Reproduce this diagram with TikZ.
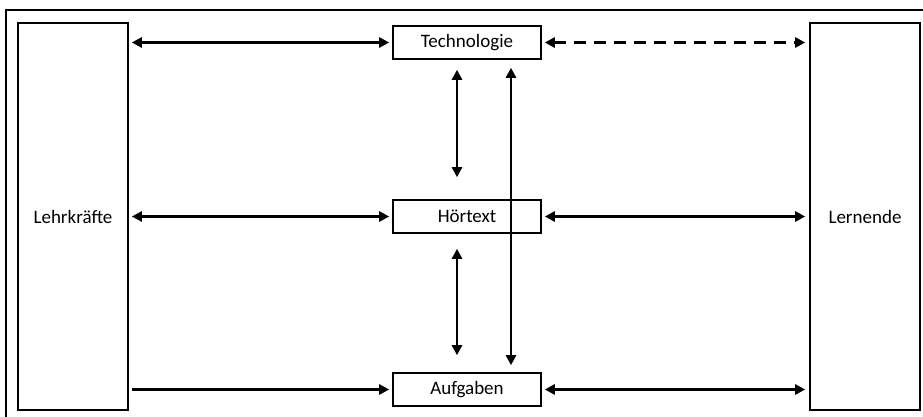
\documentclass[tikz,border=0pt]{standalone}
\usepackage{fontspec}
\setmainfont{Carlito}
\usetikzlibrary{arrows.meta,calc}
\begin{document}
\begin{tikzpicture}[x=1pt,y=-1pt,
  box/.style={draw,line width=1.6pt,inner sep=0pt,font=\fontsize{19}{22}\selectfont},
  mid/.style={box,minimum width=148pt,minimum height=33pt},
  side/.style={box,minimum width=110pt,minimum height=387pt},
  tip/.style={Triangle[length=10pt,width=10pt]},
  arr/.style={line width=2.6pt,{Triangle[length=10pt,width=10pt]}-{Triangle[length=10pt,width=10pt]}},
  arrone/.style={line width=2.6pt,-{Triangle[length=10pt,width=10pt]}},
  dsh/.style={dash pattern=on 12pt off 8pt}]
\useasboundingbox (0,0) rectangle (923,417);
% outer frame
\draw[line width=2.2pt] (6,430) -- (6,10) -- (935,10);
% boxes
\node[side] (lehr) at (73,216.5) {Lehrkräfte};
\node[side] (lern) at (865,216.5) {Lernende};
\node[mid] (tech) at (467,42.5) {Technologie};
\node[mid] (hor) at (467,216.5) {Hörtext};
\node[mid] (auf) at (467,389.5) {Aufgaben};
% horizontal connectors
\draw[arr] ($(lehr.east|-tech)+(3,0)$) -- ($(tech.west)+(-3,0)$);
\draw[arr,dsh] ($(tech.east)+(3,0)$) -- ($(lern.west|-tech)+(-4,0)$);
\draw[arr] ($(lehr.east|-hor)+(3,0)$) -- ($(hor.west)+(-3,0)$);
\draw[arr] ($(hor.east)+(3,0)$) -- ($(lern.west|-hor)+(-4,0)$);
\draw[arrone] ($(lehr.east|-auf)+(3,0)$) -- ($(auf.west)+(-3,0)$);
\draw[arr] ($(auf.east)+(3,0)$) -- ($(lern.west|-auf)+(-4,0)$);
% vertical connectors
\draw[arr] ($(tech.south)+(-10,10)$) -- ($(hor.north)+(-10,-22)$);
\draw[arr] ($(hor.south)+(-10,15)$) -- ($(auf.north)+(-10,-17)$);
\draw[arr] ($(tech.south)+(44,8)$) -- ($(auf.north)+(44,-7)$);
\end{tikzpicture}
\end{document}
